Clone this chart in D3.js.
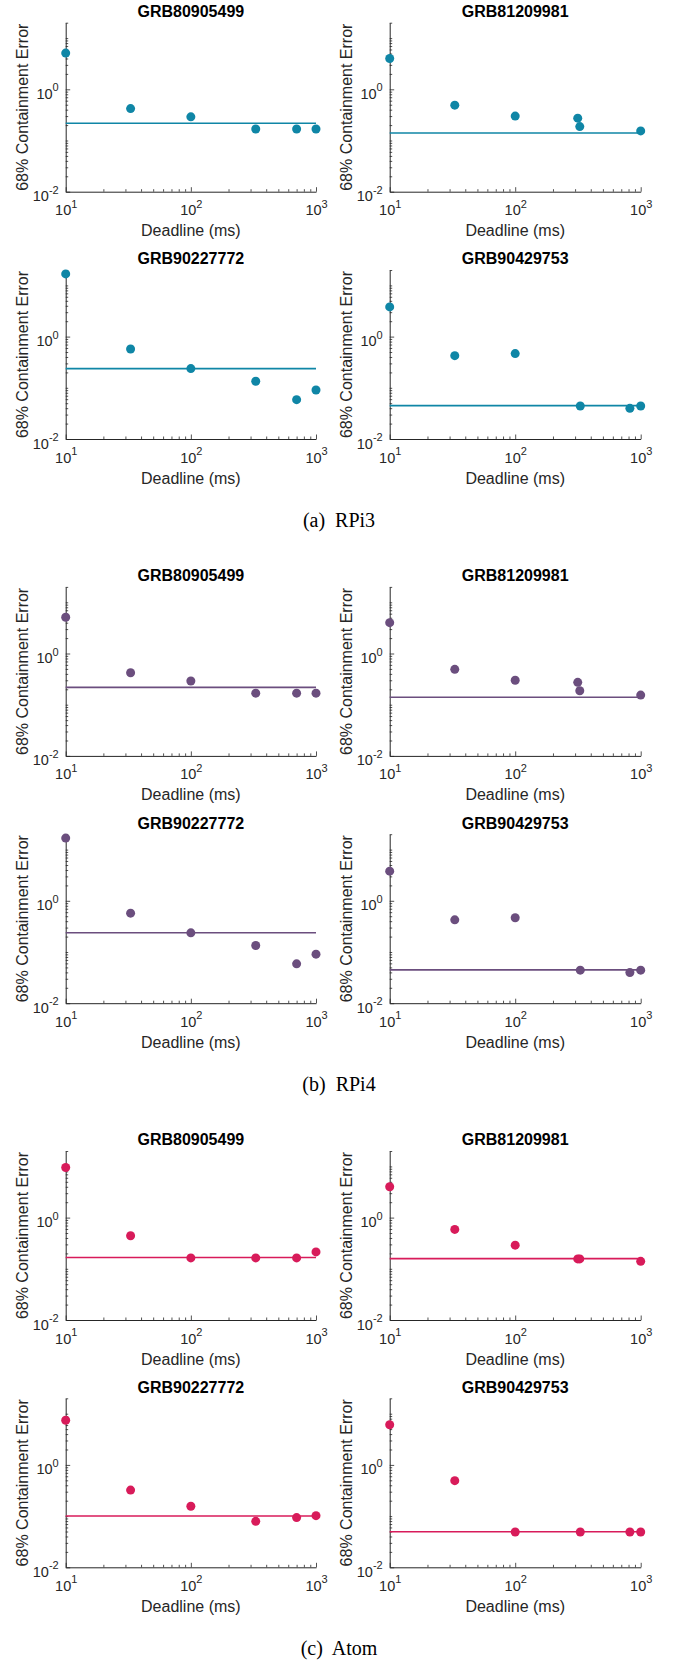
<!DOCTYPE html>
<html><head><meta charset="utf-8">
<script src="https://cdn.jsdelivr.net/npm/d3@7"></script>
<style>body{margin:0;background:#fff} svg{display:block}</style>
</head><body><svg id="c" width="678" height="1661"></svg>
<script>
// ---------- data ----------
const panelTitles = ["GRB80905499", "GRB81209981", "GRB90227772", "GRB90429753"];
const deadlines = [
  [10, 33, 100, 330, 700, 1000],
  [10, 33, 100, 315, 327, 1000],
  [10, 33, 100, 330, 700, 1000],
  [10, 33, 100, 330, 820, 1000]
];
const xDomain = [10, 1000];
const yDomain = [0.01, 20];
const xMajorTicks = [10, 100, 1000];
const yMajorTicks = [0.01, 1];

const rpi3Errors = [
  [5.1, 0.42, 0.29, 0.168, 0.168, 0.168],
  [4.0, 0.49, 0.30, 0.273, 0.187, 0.154],
  [16.8, 0.574, 0.237, 0.134, 0.0587, 0.0907],
  [3.8, 0.425, 0.466, 0.0442, 0.0397, 0.0442]
];
const rpi3Line = [0.218, 0.14, 0.237, 0.0448];

const rpi4Errors = [
  [5.1, 0.42, 0.29, 0.168, 0.168, 0.168],
  [4.0, 0.49, 0.30, 0.273, 0.187, 0.154],
  [16.8, 0.574, 0.237, 0.134, 0.0587, 0.0907],
  [3.8, 0.425, 0.466, 0.0442, 0.0397, 0.0442]
];
const rpi4Line = [0.218, 0.14, 0.237, 0.0448];

const atomErrors = [
  [9.5, 0.443, 0.163, 0.163, 0.163, 0.214],
  [4.0, 0.589, 0.290, 0.156, 0.156, 0.14],
  [7.45, 0.322, 0.156, 0.079, 0.0934, 0.102],
  [6.1, 0.492, 0.0489, 0.0489, 0.0489, 0.0489]
];
const atomLine = [0.166, 0.158, 0.1007, 0.0495];

const groupCaptions = ["(a)  RPi3", "(b)  RPi4", "(c)  Atom"];
const groupColors = ["#0f86a6", "#6b4e7e", "#d81b5a"];
const groupErrors = [rpi3Errors, rpi4Errors, atomErrors];
const groupLines = [rpi3Line, rpi4Line, atomLine];

// ---------- layout ----------
const groupOffsets = [0, 564.2, 1128.3];
const colX = [[65.7, 316], [389.7, 640.7]];
const rowY = [[22.7, 191.7], [270, 439]];
const sans = "'Liberation Sans', Arial, Helvetica, sans-serif";
const serif = "'Liberation Serif', 'Times New Roman', serif";
const axisCol = "#262626";

const svg = d3.select("#c");

function minorTicks(lo, hi) {
  const out = [];
  for (let e = -3; e <= 4; e++) {
    for (let k = 1; k <= 9; k++) {
      const v = k * Math.pow(10, e);
      if (v >= lo * 0.999 && v <= hi * 1.001) out.push(v);
    }
  }
  return out;
}

function supLabel(sel) {
  sel.each(function(d) {
    const t = d3.select(this);
    const e = Math.round(Math.log10(d));
    t.text(null);
    t.append("tspan").text("10");
    t.append("tspan").attr("dy", -7.5).attr("font-size", 11).text(String(e));
  });
}

groupCaptions.forEach((cap, gi) => {
  const oy = groupOffsets[gi];
  const color = groupColors[gi];
  for (let p = 0; p < 4; p++) {
    const col = p % 2, row = Math.floor(p / 2);
    const [x0, x1] = colX[col];
    const [yt, yb] = rowY[row].map(v => v + oy);
    const x = d3.scaleLog().domain(xDomain).range([x0, x1]);
    const y = d3.scaleLog().domain(yDomain).range([yb, yt]);
    const g = svg.append("g");

    // minor ticks
    const xm = minorTicks(xDomain[0], xDomain[1]).filter(v => !xMajorTicks.includes(v));
    const ym = minorTicks(yDomain[0], yDomain[1]).filter(v => !yMajorTicks.includes(v));
    const gxm = g.append("g").attr("transform", `translate(0,${yb})`)
      .call(d3.axisBottom(x).tickValues(xm).tickSizeInner(-2.5).tickSizeOuter(0).tickFormat(""));
    gxm.select(".domain").remove();
    const gym = g.append("g").attr("transform", `translate(${x0},0)`)
      .call(d3.axisLeft(y).tickValues(ym).tickSizeInner(-2.5).tickSizeOuter(0).tickFormat(""));
    gym.select(".domain").remove();

    // major axes
    const gx = g.append("g").attr("transform", `translate(0,${yb})`)
      .call(d3.axisBottom(x).tickValues(xMajorTicks).tickSizeInner(-4.5).tickSizeOuter(0));
    gx.selectAll(".tick text").attr("y", 23.5).attr("dy", null)
      .attr("font-family", sans).attr("font-size", 14.5).attr("fill", axisCol).call(supLabel);
    const gy = g.append("g").attr("transform", `translate(${x0},0)`)
      .call(d3.axisLeft(y).tickValues(yMajorTicks).tickSizeInner(-4.5).tickSizeOuter(0));
    gy.selectAll(".tick text").attr("x", -7).attr("y", 9).attr("dy", null)
      .attr("font-family", sans).attr("font-size", 14.5).attr("fill", axisCol).call(supLabel);
    [gxm, gym, gx, gy].forEach(a => {
      a.selectAll("line").attr("stroke", axisCol).attr("stroke-width", 0.8);
      a.selectAll("path").attr("stroke", axisCol).attr("stroke-width", 1);
    });

    // labels
    g.append("text").attr("x", (x0 + x1) / 2).attr("y", yb + 44.5)
      .attr("text-anchor", "middle").attr("font-family", sans).attr("font-size", 16)
      .attr("fill", axisCol).text("Deadline (ms)");
    g.append("text").attr("transform", `translate(${x0 - 37.7},${(yt + yb) / 2}) rotate(-90)`)
      .attr("text-anchor", "middle").attr("font-family", sans).attr("font-size", 16)
      .attr("fill", axisCol).text("68% Containment Error");
    g.append("text").attr("x", (x0 + x1) / 2).attr("y", yt - 5.6)
      .attr("text-anchor", "middle").attr("font-family", sans).attr("font-size", 16)
      .attr("font-weight", "bold").attr("fill", "#000").text(panelTitles[p]);

    // reference line
    const lv = groupLines[gi][p];
    g.append("path").datum(xDomain)
      .attr("d", d3.line().x(d => x(d)).y(() => y(lv)))
      .attr("stroke", color).attr("stroke-width", 1.6).attr("fill", "none");

    // points
    const pts = deadlines[p].map((d, i) => ({ d, v: groupErrors[gi][p][i] }));
    g.selectAll("circle.pt").data(pts).join("circle").attr("class", "pt")
      .attr("cx", d => x(d.d)).attr("cy", d => y(d.v)).attr("r", 4.5)
      .attr("fill", color);
  }
  svg.append("text").attr("x", 339).attr("y", oy + 526.7)
    .attr("text-anchor", "middle").attr("font-family", serif).attr("font-size", 20)
    .attr("fill", "#000").attr("xml:space", "preserve").style("white-space", "pre").text(cap);
});
</script></body></html>
